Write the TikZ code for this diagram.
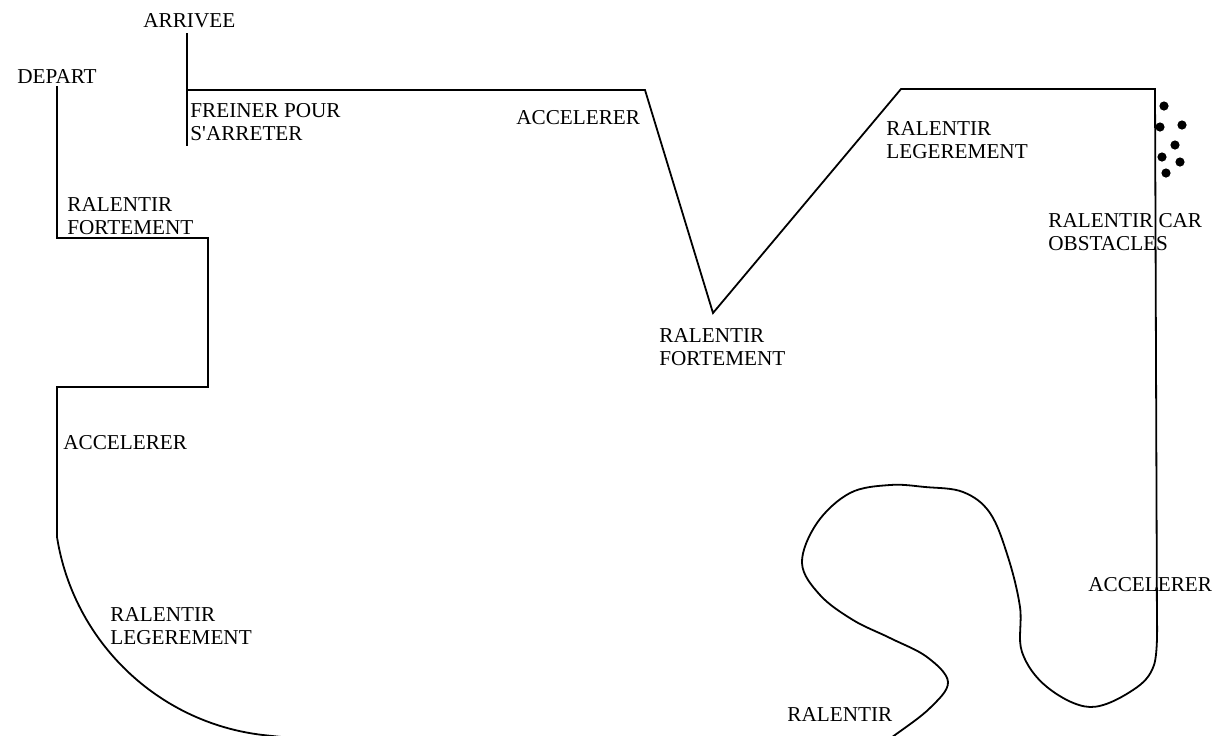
\documentclass[tikz,border=0pt]{standalone}
\usepackage{fontspec}
\setmainfont{Liberation Serif}
\begin{document}
\begin{tikzpicture}[x=0.5pt,y=-0.5pt,
  track/.style={line width=0.9pt, line join=miter},
  lbl/.style={anchor=north west, inner sep=0pt, align=left, font=\fontsize{10.6}{11.6}\selectfont},
  obstacle/.style={fill=black}]
\useasboundingbox (0,0) rectangle (1223,735);
\clip (0,0) rectangle (1223,735);
% labels
\node[lbl] (arrivee) at (143,13) {ARRIVEE};
\node[lbl] (depart) at (17,69) {DEPART};
\node[lbl] (freiner) at (190,103) {FREINER POUR\\S\textquotesingle ARRETER};
\node[lbl] (ralfort1) at (67,197) {RALENTIR\\FORTEMENT};
\node[lbl] (acc1) at (516,110) {ACCELERER};
\node[lbl] (ralleg1) at (886,121) {RALENTIR\\LEGEREMENT};
\node[lbl] (ralfort2) at (659,328) {RALENTIR\\FORTEMENT};
\node[lbl] (ralcar) at (1048,213) {RALENTIR CAR\\OBSTACLES};
\node[lbl] (acc2) at (63,435) {ACCELERER};
\node[lbl] (ralleg2) at (110,607) {RALENTIR\\LEGEREMENT};
\node[lbl] (ral3) at (787,707) {RALENTIR};
\node[lbl] (acc3) at (1088,577) {ACCELERER};
% arrival stub
\draw[track] (187,33) -- (187,146);
% start section
\draw[track] (57,86) -- (57,238) -- (208,238) -- (208,387) -- (57,387) -- (57,537)
  .. controls (73.5,641.6) and (157.8,722.8) .. (263,735) -- (300,739);
% top section
\draw[track] (187,90) -- (645,90) -- (713,313) -- (901,89) -- (1155,89) -- (1157,630);
% winding bottom-right section
\draw[track] plot[smooth, tension=0.6] coordinates {(1157,620) (1154,665) (1133,690) (1090,707) (1047,687) (1022,652) (1020,607) (1008,557) (990,513) (963,492) (925,487) (890,485) (850,493) (817,523) (802,563) (820,595) (853,620) (890,638) (927,657) (948,682) (930,708) (895,735) (870,752)};
% obstacles
\foreach \p in {(1164,106),(1160,127),(1182,125),(1175,145),(1162,157),(1180,162),(1166,173)}
  \fill[obstacle] \p circle[radius=2.3pt];
\end{tikzpicture}
\end{document}
